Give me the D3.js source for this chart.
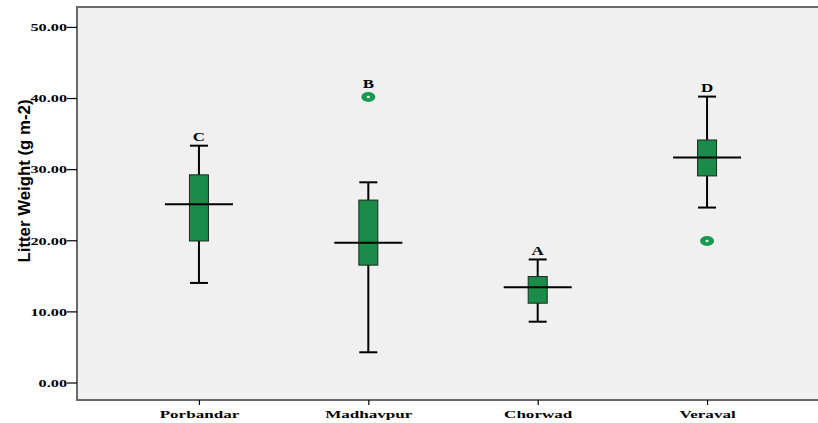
<!DOCTYPE html>
<html lang="en">
<head>
    <meta charset="UTF-8">
    <title>Litter Weight boxplot</title>
    <script src="https://d3js.org/d3.v7.min.js"></script>
    <style>
        body { margin: 0; background: #fff; }
        svg { display: block; }
    </style>
</head>
<body>
    <div id="chart"></div>
    <script>
        // values
        const categories = ["Porbandar", "Madhavpur", "Chorwad", "Veraval"];
        const whiskerLow = [14.0, 4.25, 8.55, 24.6];
        const q1 = [19.9, 16.5, 11.15, 29.05];
        const median = [25.05, 19.65, 13.4, 31.65];
        const q3 = [29.2, 25.65, 14.9, 34.1];
        const whiskerHigh = [33.3, 28.15, 17.3, 40.2];
        const outliers = [[], [40.15], [], [19.9]];
        const letters = ["C", "B", "A", "D"];
        const yTicks = [0, 10, 20, 30, 40, 50];

        const W = 818, H = 423;
        const plot = {left: 77, top: 7, right: 829, bottom: 400};
        const stretch = 1.55; // the source picture is widened

        const svg = d3.select("#chart").append("svg")
            .attr("width", W)
            .attr("height", H);

        const x = d3.scalePoint()
            .domain(categories)
            .range([plot.left, plot.right])
            .padding(0.72);

        const y = d3.scaleLinear()
            .domain([-2.46, 52.8])
            .range([plot.bottom, plot.top]);

        // plot background
        svg.append("rect")
            .attr("x", plot.left)
            .attr("y", plot.top)
            .attr("width", plot.right - plot.left)
            .attr("height", plot.bottom - plot.top)
            .attr("fill", "#f0f0f0")
            .attr("stroke", "#6a6a6a")
            .attr("stroke-width", 2);

        function widen(sel) {
            sel.each(function() {
                const len = this.getComputedTextLength();
                d3.select(this)
                  .attr("textLength", len * stretch)
                  .attr("lengthAdjust", "spacingAndGlyphs");
            });
        }

        // y axis
        const yAxis = svg.append("g")
            .attr("transform", `translate(${plot.left},0)`)
            .call(d3.axisLeft(y).tickValues(yTicks).tickSize(10).tickPadding(0)
                .tickFormat(d3.format(".2f")));
        yAxis.select(".domain").remove();
        yAxis.selectAll(".tick line").attr("stroke", "#000").attr("stroke-width", 1.2);
        yAxis.selectAll(".tick text")
            .attr("font-family", "'Liberation Serif', 'Times New Roman', serif")
            .attr("font-weight", "bold")
            .attr("font-size", 10.5)
            .attr("fill", "#000")
            .attr("dy", "0.36em")
            .call(widen);

        // x axis
        const xAxis = svg.append("g")
            .attr("transform", `translate(0,${plot.bottom})`)
            .call(d3.axisBottom(x).tickSize(5).tickPadding(5));
        xAxis.select(".domain").remove();
        xAxis.selectAll(".tick line").attr("stroke", "#000").attr("stroke-width", 1.2);
        xAxis.selectAll(".tick text")
            .attr("font-family", "'Liberation Serif', 'Times New Roman', serif")
            .attr("font-weight", "bold")
            .attr("font-size", 11)
            .attr("fill", "#000")
            .call(widen);

        // y axis title
        svg.append("text")
            .attr("transform", "translate(30,181) rotate(-90)")
            .attr("text-anchor", "middle")
            .attr("font-family", "'Liberation Sans', Arial, sans-serif")
            .attr("font-weight", "bold")
            .attr("font-size", 17)
            .attr("textLength", 163)
            .attr("lengthAdjust", "spacingAndGlyphs")
            .text("Litter Weight (g m-2)");

        const boxW = 19, capW = 18, medW = 68;
        const green = "#1a8b48";

        const groups = svg.selectAll(".box")
            .data(categories)
            .enter()
            .append("g")
            .attr("class", "box");

        // whiskers
        groups.append("line")
            .attr("x1", d => x(d)).attr("x2", d => x(d))
            .attr("y1", (d, i) => y(whiskerLow[i]))
            .attr("y2", (d, i) => y(whiskerHigh[i]))
            .attr("stroke", "#000").attr("stroke-width", 2);

        // caps
        [whiskerLow, whiskerHigh].forEach(arr => {
            groups.append("line")
                .attr("x1", d => x(d) - capW / 2).attr("x2", d => x(d) + capW / 2)
                .attr("y1", (d, i) => y(arr[i])).attr("y2", (d, i) => y(arr[i]))
                .attr("stroke", "#000").attr("stroke-width", 2);
        });

        // boxes
        groups.append("rect")
            .attr("x", d => x(d) - boxW / 2)
            .attr("y", (d, i) => y(q3[i]))
            .attr("width", boxW)
            .attr("height", (d, i) => y(q1[i]) - y(q3[i]))
            .attr("fill", green)
            .attr("stroke", "#1b2a20")
            .attr("stroke-width", 1);

        // median lines
        groups.append("line")
            .attr("x1", d => x(d) - medW / 2).attr("x2", d => x(d) + medW / 2)
            .attr("y1", (d, i) => y(median[i])).attr("y2", (d, i) => y(median[i]))
            .attr("stroke", "#000").attr("stroke-width", 2);

        // outliers
        groups.each(function(d, i) {
            const g = d3.select(this);
            outliers[i].forEach(v => {
                g.append("ellipse")
                    .attr("cx", x(d)).attr("cy", y(v))
                    .attr("rx", 7).attr("ry", 5)
                    .attr("fill", "#179a50");
                g.append("ellipse")
                    .attr("cx", x(d)).attr("cy", y(v))
                    .attr("rx", 1.6).attr("ry", 1.2)
                    .attr("fill", "#d8f0e0");
            });
        });

        // group letters above the highest mark
        groups.append("text")
            .attr("x", d => x(d))
            .attr("y", (d, i) => {
                const top = d3.max([whiskerHigh[i], ...outliers[i]]);
                return y(top) - (top > whiskerHigh[i] ? 9 : 4.5);
            })
            .attr("text-anchor", "middle")
            .attr("font-family", "'Liberation Serif', 'Times New Roman', serif")
            .attr("font-weight", "bold")
            .attr("font-size", 13)
            .attr("fill", "#000")
            .text((d, i) => letters[i])
            .each(function() {
                const len = this.getComputedTextLength();
                d3.select(this).attr("textLength", len * 1.3).attr("lengthAdjust", "spacingAndGlyphs");
            });
    </script>
</body>
</html>
